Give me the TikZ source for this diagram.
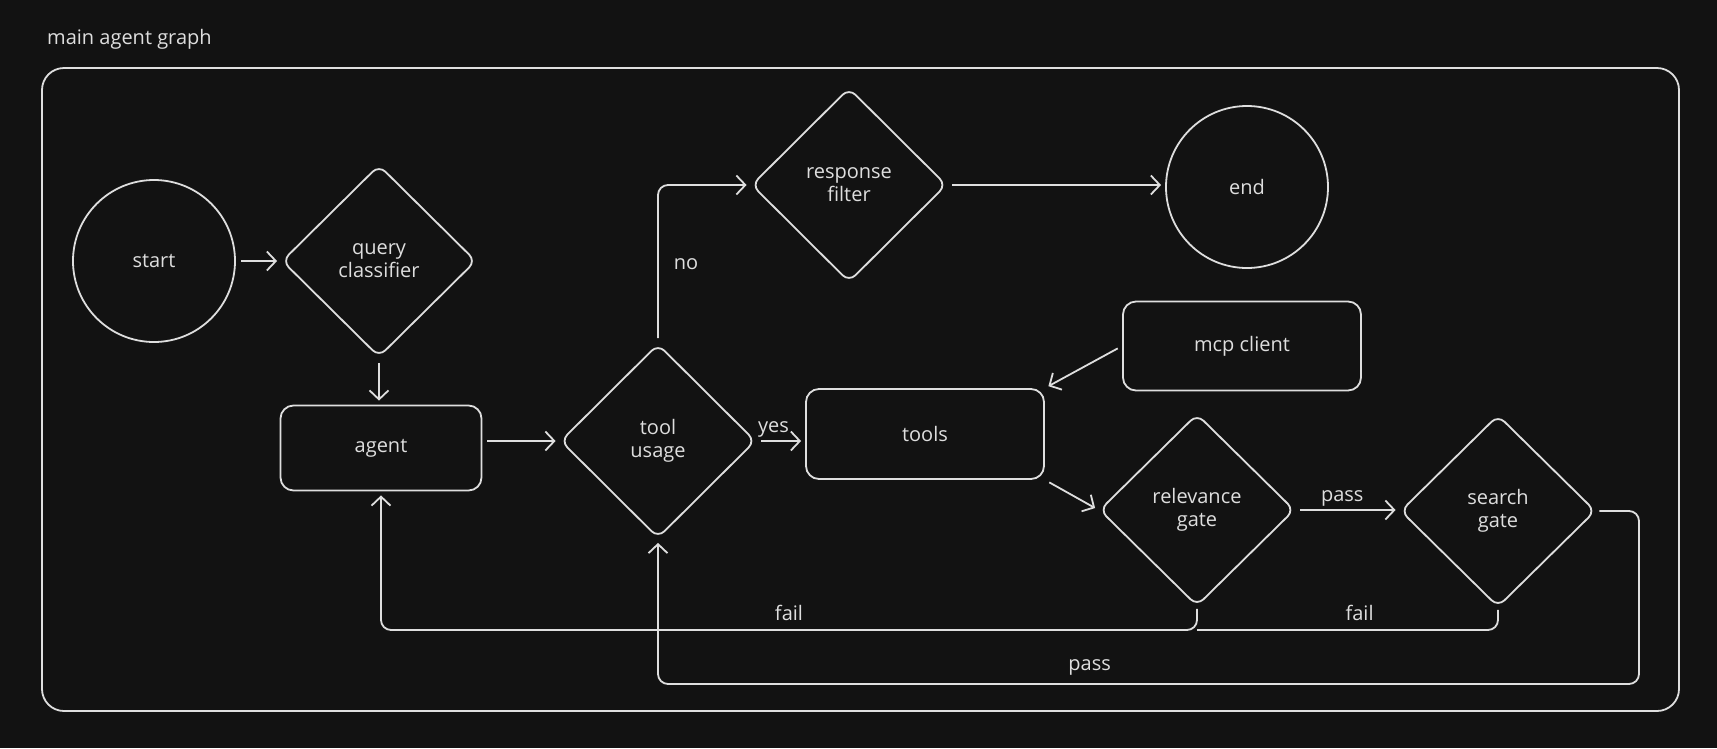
\documentclass[tikz,border=0pt]{standalone}
\usepackage{fontspec}
\setmainfont{Open Sans}
\usetikzlibrary{arrows.meta,shapes.geometric,positioning}
\definecolor{bg}{HTML}{121212}
\definecolor{ink}{HTML}{DEDEDE}
\tikzset{base/.style={draw=ink,line width=1.8pt,text=ink,align=center,font=\fontsize{20}{23}\selectfont},term/.style={base,circle,minimum size=162pt,inner sep=0pt},gate/.style={base,diamond,minimum width=195pt,minimum height=194pt,inner sep=0pt,rounded corners=9pt},box/.style={base,rounded corners=13pt,minimum width=201pt,minimum height=85pt},lbl/.style={text=ink,inner sep=3pt,font=\fontsize{20}{23}\selectfont},link/.style={draw=ink,line width=1.8pt,rounded corners=10pt},flow/.style={link,-{Straight Barb[length=9pt,width=19pt]},shorten >=4pt,shorten <=5pt}}
\begin{document}
\begin{tikzpicture}[x=1pt,y=-1pt]
\path[fill=bg] (0,0) rectangle (1717,748);
\node[lbl,anchor=west] (title) at (44,39) {main agent graph};\draw[link,rounded corners=22pt] (42,68) rectangle (1679,711);
\node[term] (start) at (154,261) {start};\node[gate,minimum width=194pt,minimum height=192pt] (query) at (379,261) {query\\classifier};
\node[box] (agent) at (381,448) {agent};\node[gate] (usage) at (658,441) {tool\\usage};
\node[gate] (filter) at (849,185) {response\\filter};\node[term] (finish) at (1247,187) {end};
\node[box,minimum width=238pt,minimum height=89pt] (mcp) at (1242,346) {mcp client};\node[box,minimum width=238pt,minimum height=90pt] (tools) at (925,434) {tools};
\node[gate,minimum height=192pt] (relevance) at (1197,510) {relevance\\gate};\node[gate,minimum height=192pt] (search) at (1498,511) {search\\gate};
\coordinate (failjoin) at (1197,630);\coordinate (passturn) at (1639,684);
\draw[flow] (start) -- (query);\draw[flow] (query.south) -- (query.south |- agent.north);\draw[flow] (agent.east |- usage) -- (usage.west);
\draw[flow] (usage.north) |- node[lbl,right=12pt,pos=.25] (no) {no} (filter.west);\draw[flow] (filter.east) -- (filter.east -| finish.west);
\draw[flow] (mcp.west) -- (tools.north east);\draw[flow] (usage.east) -- node[lbl,above,pos=.35] (yes) {yes} (usage.east -| tools.west);
\draw[flow] (tools.south east) -- (relevance.west);\draw[flow] (relevance.east) -- node[lbl,above,pos=.45] (pass1) {pass} (relevance.east -| search.west);
\draw[flow,shorten <=2pt] (relevance.south) -- (failjoin) -| node[lbl,above=5pt,pos=.25] (fail1) {fail} (agent.south);\draw[link,shorten <=2pt] (search.south) |- node[lbl,above=5pt,pos=.73] (fail2) {fail} (failjoin);
\draw[flow,shorten <=3pt] (search.east) -| (passturn) -| node[lbl,above=5pt,pos=.28] (pass2) {pass} (usage.south);
\end{tikzpicture}
\end{document}
